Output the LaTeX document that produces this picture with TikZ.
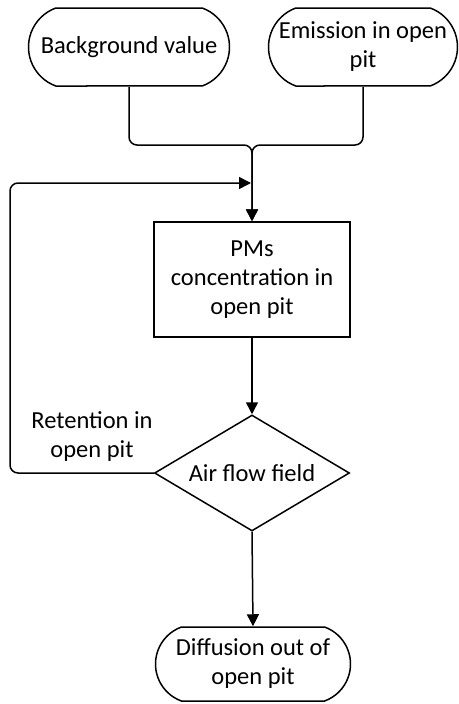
\documentclass[tikz,border=0pt]{standalone}
\usepackage{fontspec}
\setmainfont{Carlito}
\usetikzlibrary{shapes.geometric,shapes.misc,arrows.meta}
\begin{document}
\begin{tikzpicture}[x=1pt,y=-1pt,line width=1.5pt,>={Triangle[length=12pt,width=12pt]}]
\tikzstyle{every node}+=[inner sep=0pt,align=center,font=\fontsize{24.5}{29}\selectfont]
\tikzstyle{term}=[draw,rounded rectangle,rounded rectangle arc length=140,minimum height=78pt]
\useasboundingbox (0,0) rectangle (458,704);
\node [term,minimum width=201pt] (bg) at (129,47) {Background value};
\node [term,minimum width=189pt] (em) at (363,47) {Emission in open\\pit};
\node [draw,minimum width=196pt,minimum height=115pt] (pm) at (252,279.5) {PMs\\concentration in\\open pit};
\node [draw,diamond,shape aspect=1.68,minimum width=195pt,minimum height=116pt] (air) at (252,473) {Air flow field};
\node [term,minimum width=195pt,minimum height=74pt] (out) at (253,664) {Diffusion out of\\open pit};
\node (ret) at (92,436) {Retention in\\open pit};
\coordinate (jn) at (252,145);
\coordinate (fb) at (251,183);
\draw [->,rounded corners=8pt] (bg.south) -- (bg.south |- jn) -- (jn) -- (pm.north);
\draw [->,rounded corners=8pt] (em.south) -- (em.south |- jn) -- (jn) -- (pm.north);
\draw [->,rounded corners=8pt] (air.west) -- (10,473) -- (10,183) -- (fb);
\draw [->] (pm.south) -- (air.north);
\draw [->] (air.south) -- (out.north);
\end{tikzpicture}
\end{document}
